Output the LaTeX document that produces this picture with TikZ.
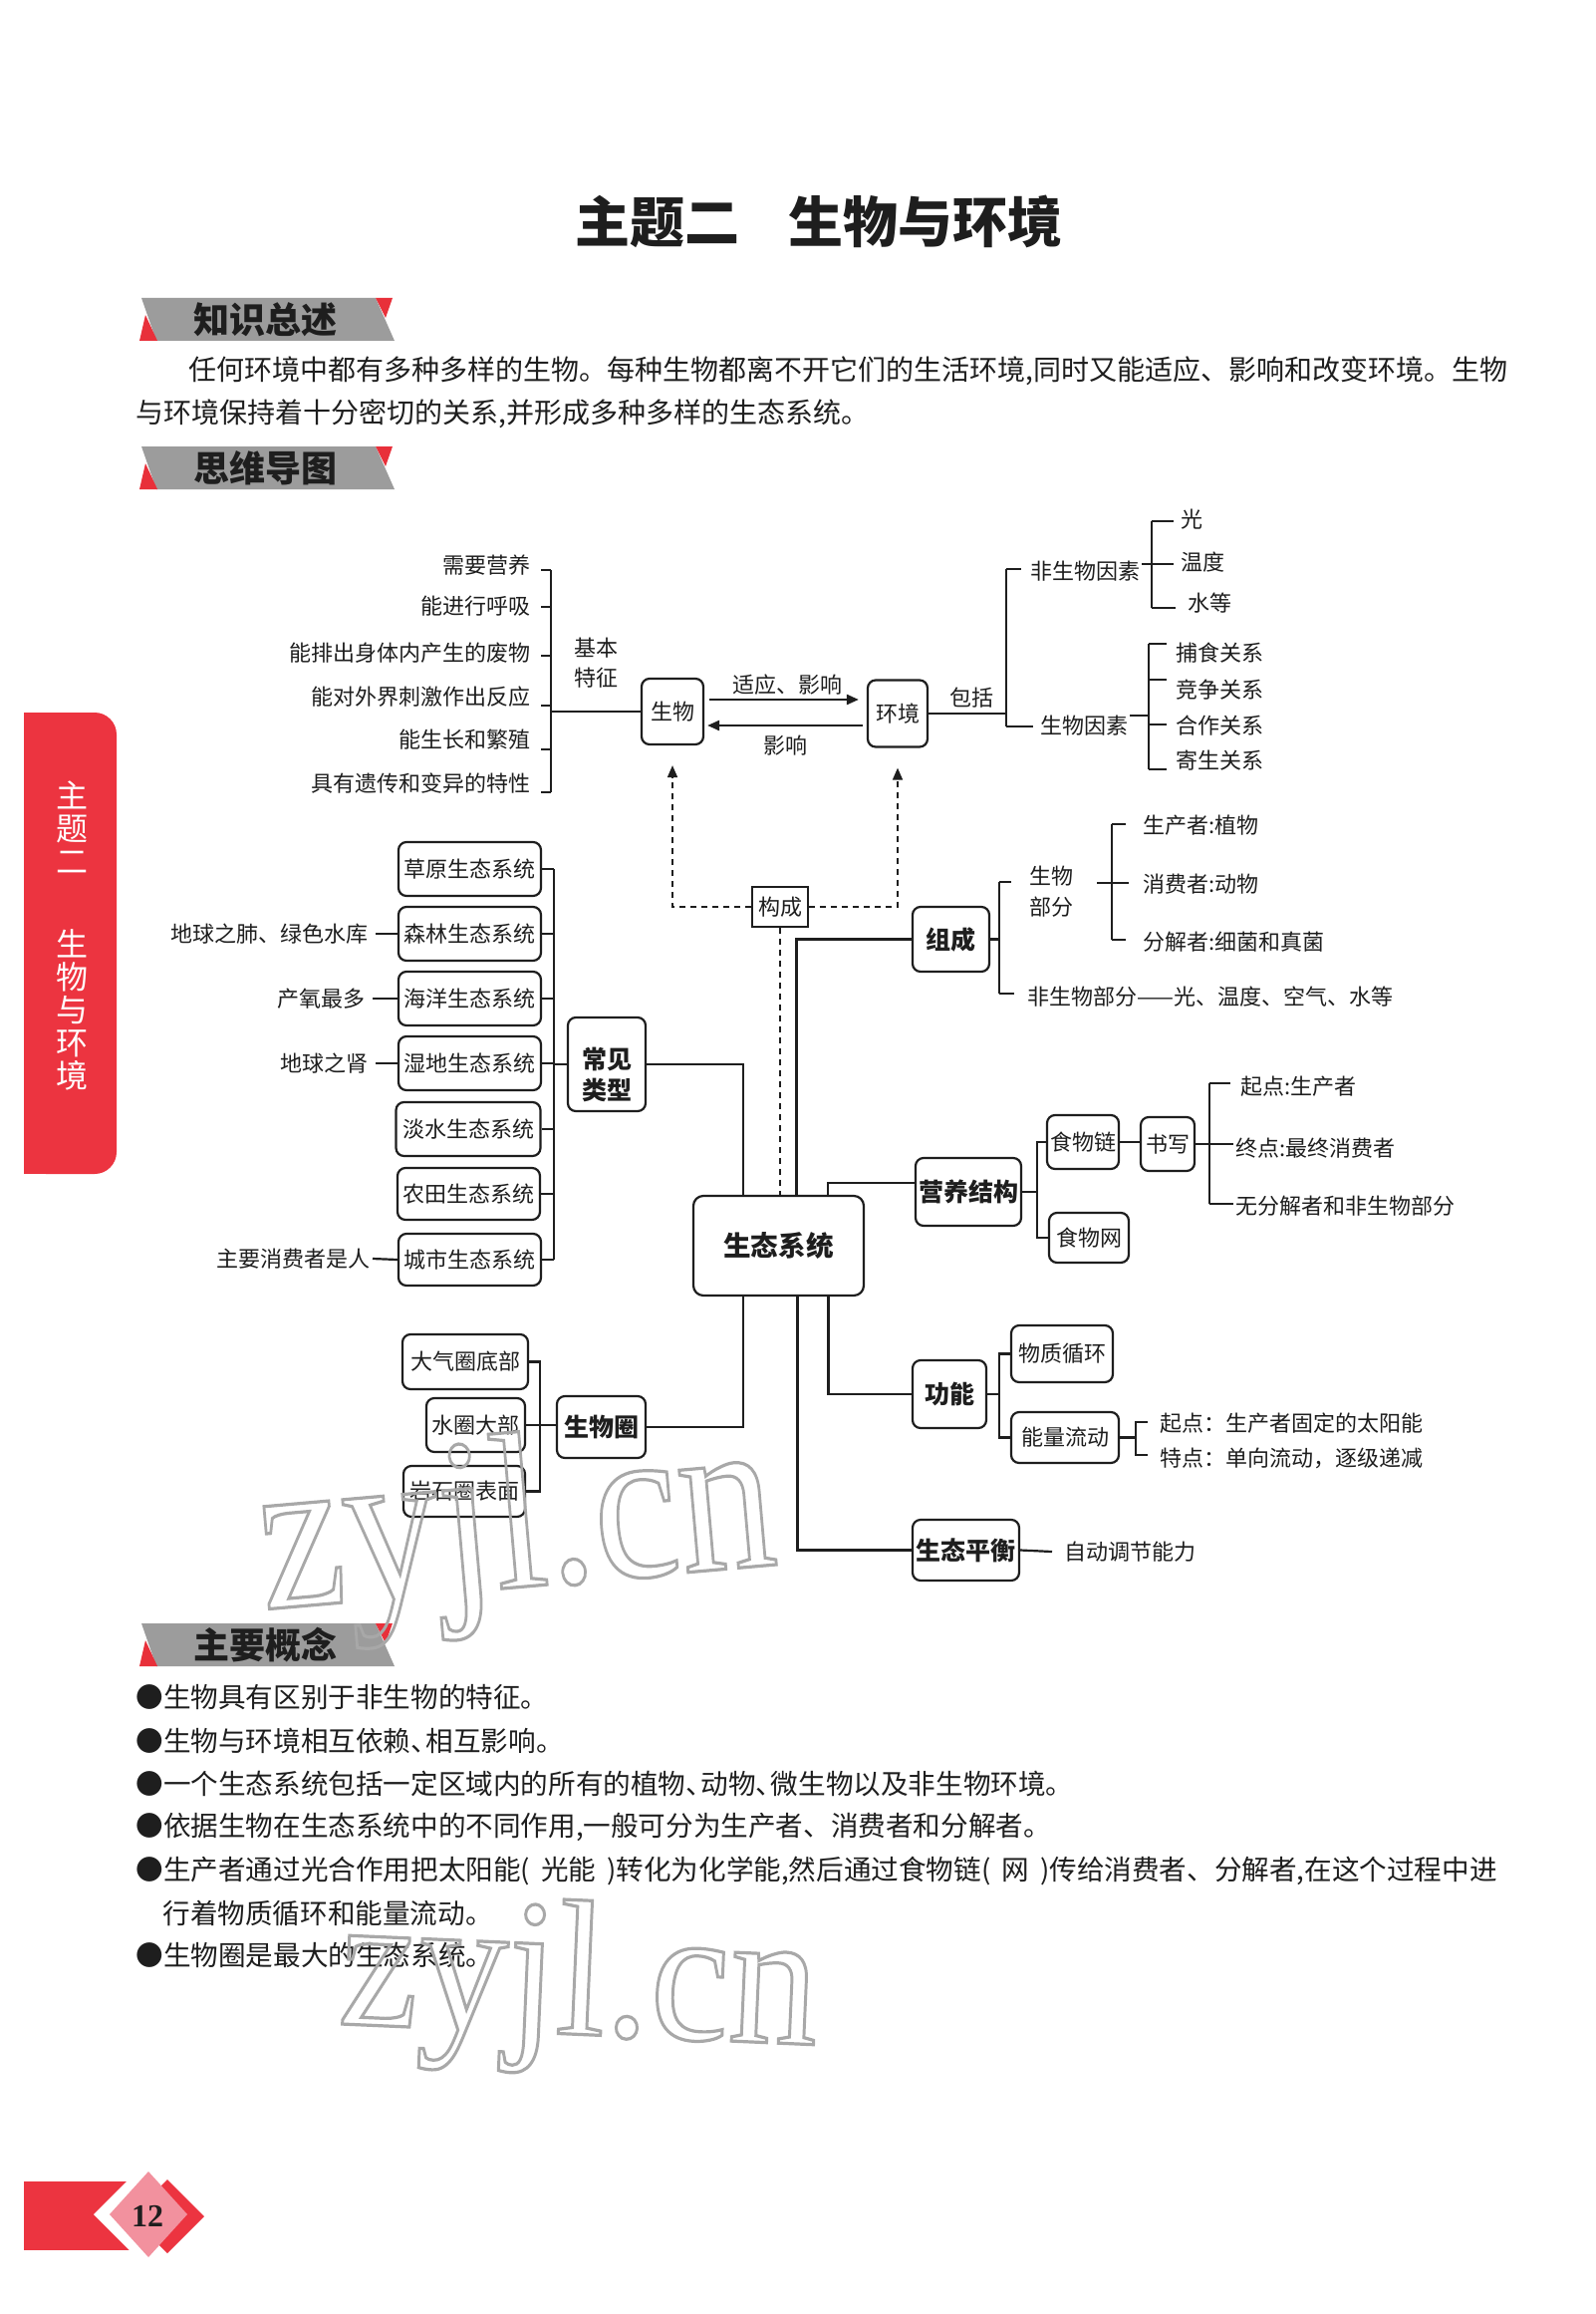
\documentclass[tikz,border=0pt]{standalone}
\usepackage{fontspec}
\setmainfont{Noto Sans CJK SC}
\newfontfamily\numfont{Liberation Serif}
\newfontfamily\wmfont{Liberation Serif}
\usetikzlibrary{arrows.meta}
\definecolor{ink}{HTML}{1E1E1E}
\definecolor{tabred}{HTML}{EC3440}
\definecolor{banred}{HTML}{E8303A}
\definecolor{pinkd}{HTML}{F2919E}
\definecolor{bangray}{HTML}{9C9C9C}
\definecolor{wmgray}{HTML}{A8A8A8}
\newcommand\wmtext[1]{\special{pdf:literal direct 1 Tr 1.6 w}#1\special{pdf:literal direct 0 Tr}}
\newcommand\hdn{\makebox[0.55em][l]{、}}
\newcommand\mybanner[3]{%
  \begin{scope}[shift={(0,#2)}]
    \fill[bangray] (142,0) -- (377,0) -- (396,43) -- (157,43) -- cycle;
    \fill[banred] (140,43) -- (158,43) -- (146,17) -- cycle;
    \fill[banred] (377,0) -- (394,0) -- (387,20) -- cycle;
    \node[font=\bfseries\fontsize{18}{20}\selectfont,text=ink,inner sep=0pt] (#1) at (266,22) {#3};
  \end{scope}}
\begin{document}
\begin{tikzpicture}[x=0.5pt,y=-0.5pt,
  ln/.style={draw=ink,line width=1.1pt},
  t/.style={font=\fontsize{11}{15}\selectfont,text=ink,inner sep=0pt},
  bx/.style={draw=ink,line width=1.1pt,rounded corners=4pt,inner sep=0pt,font=\fontsize{11}{15}\selectfont,text=ink},
  hb/.style={bx,font=\bfseries\fontsize{12.5}{15}\selectfont},
  hbt/.style={font=\bfseries\fontsize{12.5}{15.5}\selectfont,text=ink,inner sep=0pt,align=center},
  dsh/.style={draw=ink,line width=0.8pt,dash pattern=on 3pt off 2.5pt},
  tip/.style={-{Triangle[length=6pt,width=5pt]}},
  para/.style={font=\fontsize{14}{16}\selectfont,text=ink,inner sep=0pt,anchor=west},
  blt/.style={font=\fontsize{13.8}{16}\selectfont,text=ink,inner sep=0pt,anchor=west},
  wm/.style={font=\wmfont\fontsize{112}{112}\selectfont,text=wmgray,inner sep=0pt},
]
\useasboundingbox (0,0) rectangle (1601,2322);
\fill[white] (0,0) rectangle (1601,2322);

% title
\node[font=\bfseries\fontsize{27.5}{30}\selectfont,text=ink] (title) at (822,222) {主题二\hspace{0.9em}生物与环境};

% banners
\mybanner{b1}{299}{知识总述}
\mybanner{b2}{448}{思维导图}
\mybanner{b3}{1629}{主要概念}

% overview paragraph
\node[para] (p1) at (189,372) {任何环境中都有多种多样的生物。每种生物都离不开它们的生活环境,同时又能适应、影响和改变环境。生物};
\node[para] (p2) at (136,415) {与环境保持着十分密切的关系,并形成多种多样的生态系统。};

% side tab
\fill[tabred,rounded corners=11pt] (24,715) rectangle (117,1178);
\fill[tabred] (24,715) rectangle (70,1178);
\node[font=\fontsize{16}{16.5}\selectfont,text=white,align=center,inner sep=0pt] (tab1) at (72,830) {主\\题\\二};
\node[font=\fontsize{16}{16.5}\selectfont,text=white,align=center,inner sep=0pt] (tab2) at (72,1013.5) {生\\物\\与\\环\\境};

% ---------- mind map ----------
% basic features
\node[t,anchor=east] (f1) at (533,567) {需要营养};
\node[t,anchor=east] (f2) at (533,608) {能进行呼吸};
\node[t,anchor=east] (f3) at (533,655) {能排出身体内产生的废物};
\node[t,anchor=east] (f4) at (533,699) {能对外界刺激作出反应};
\node[t,anchor=east] (f5) at (533,742) {能生长和繁殖};
\node[t,anchor=east] (f6) at (533,786) {具有遗传和变异的特性};
\coordinate (s1t) at (553,572);
\coordinate (s1b) at (553,795);
\draw[ln] (s1t) -- (s1b);
\foreach \yy in {572,609,658,708,752,795} \draw[ln] (543,\yy) -- (553,\yy);
\node[t,align=center] (jb) at (598,665) {基本\\特征};

\node[bx,minimum width=31pt,minimum height=33pt] (bio) at (675,714) {生物};
\node[bx,minimum width=30pt,minimum height=33.5pt] (env) at (901,716) {环境};
\draw[ln] (bio.west) -- (bio.west -| s1t);
\draw[ln,line width=1.2pt,tip] ([xshift=2.5pt,yshift=6pt]bio.east) -- ([xshift=-4pt,yshift=6pt]bio.east -| env.west);
\draw[ln,line width=1.2pt,tip] ([xshift=-2pt,yshift=-6pt]env.west) -- ([xshift=1.5pt,yshift=-6pt]env.west -| bio.east);
\node[t] (l1) at (790,687) {适应、影响};
\node[t] (l2) at (788,748) {影响};

% environment factors
\coordinate (s2t) at (1010,571);
\coordinate (s2b) at (1010,729);
\draw[ln] (env.east) -- (env.east -| s2t);
\node[t] (bk) at (975,700) {包括};
\draw[ln] (s2t) -- (s2b);
\draw[ln] (s2t) -- (1025,571);
\draw[ln] (s2b) -- (1037,729);
\node[t,anchor=west] (fsw) at (1034,573) {非生物因素};
\node[t,anchor=west] (swy) at (1044,728) {生物因素};
\draw[ln] (1146,566) -- (1156,566);
\draw[ln] (1156,523) -- (1156,610);
\draw[ln] (1156,523) -- (1178,523);
\draw[ln] (1156,566) -- (1178,566);
\draw[ln] (1156,610) -- (1180,610);
\node[t,anchor=west] (g1) at (1185,521) {光};
\node[t,anchor=west] (g2) at (1185,564) {温度};
\node[t,anchor=west] (g3) at (1192,605) {水等};
\draw[ln] (1134,718) -- (1153,718);
\draw[ln] (1153,646) -- (1153,772);
\foreach \yy in {646,682,727,772} \draw[ln] (1153,\yy) -- (1171,\yy);
\node[t,anchor=west] (r1) at (1180,655) {捕食关系};
\node[t,anchor=west] (r2) at (1180,692) {竞争关系};
\node[t,anchor=west] (r3) at (1180,728) {合作关系};
\node[t,anchor=west] (r4) at (1180,763) {寄生关系};

% ecosystem
\node[bx,rounded corners=5pt,minimum width=85.5pt,minimum height=50pt,font=\bfseries\fontsize{13.8}{16}\selectfont] (eco) at (781.5,1250) {生态系统};
\node[t,draw=ink,line width=0.9pt,minimum width=28pt,minimum height=20pt] (gc) at (783,910) {构成};
\draw[dsh,tip] (gc.west) -| ([yshift=-10pt]bio.south);
\draw[dsh,tip] (gc.east) -| ([yshift=-10pt]env.south);
\draw[dsh] (gc.south) -- (gc.south |- eco.north);

% common types
\node[hb,minimum width=39pt,minimum height=47pt] (cj) at (609,1068) {};
\node[hbt] (cjt) at ([yshift=-5pt]cj.center) {常见\\类型};
\draw[ln] ([xshift=-17.75pt]eco.north) |- (cj.east);
\node[bx,minimum width=71.5pt,minimum height=27pt] (e1) at (471.5,872) {草原生态系统};
\node[bx,minimum width=71.5pt,minimum height=27pt] (e2) at (471.5,937) {森林生态系统};
\node[bx,minimum width=71.5pt,minimum height=27pt] (e3) at (471.5,1002) {海洋生态系统};
\node[bx,minimum width=71.5pt,minimum height=27pt] (e4) at (471.5,1067) {湿地生态系统};
\node[bx,minimum width=72.5pt,minimum height=27pt] (e5) at (470,1133) {淡水生态系统};
\node[bx,minimum width=71.5pt,minimum height=26pt] (e6) at (470.5,1198) {农田生态系统};
\node[bx,minimum width=71.5pt,minimum height=26pt] (e7) at (471.5,1264) {城市生态系统};
\coordinate (s3t) at (556,872);
\coordinate (s3b) at (556,1264);
\draw[ln] (s3t) -- (s3b);
\foreach \e in {e1,e2,e3,e4,e5,e6,e7} \draw[ln] (\e.east) -- (\e.east -| s3t);
\draw[ln] (cj.west) -- (cj.west -| s3t);
\node[t,anchor=east] (n1) at (370,937) {地球之肺、绿色水库};
\node[t,anchor=east] (n2) at (367,1002) {产氧最多};
\node[t,anchor=east] (n3) at (370,1067) {地球之肾};
\node[t,anchor=east] (n4) at (372,1263) {主要消费者是人};
\draw[ln] ([xshift=3.5pt]n1.east) -- (e2.west);
\draw[ln] ([xshift=3.5pt]n2.east) -- (e3.west);
\draw[ln] ([xshift=3.5pt]n3.east) -- (e4.west);
\draw[ln] ([xshift=1pt]n4.east) -- (e7.west);

% composition
\node[hb,minimum width=38.5pt,minimum height=32.5pt] (zc) at (954.5,942.5) {组成};
\draw[ln] ([xshift=9pt]eco.north) |- (zc.west);
\coordinate (s4t) at (1003,885);
\coordinate (s4b) at (1003,997);
\draw[ln] (zc.east) -- (zc.east -| s4t);
\draw[ln] (s4t) -- (s4b);
\draw[ln] (s4t) -- (1015,885);
\draw[ln] (s4b) -- (1018,997);
\node[t,align=center,font=\fontsize{11}{15.5}\selectfont] (swbf) at (1055,895) {生物\\部分};
\node[t,anchor=west] (fsb) at (1031,1000) {非生物部分——光、温度、空气、水等};
\draw[ln] (1101,886) -- (1116,886);
\draw[ln] (1116,827) -- (1116,943);
\draw[ln] (1116,827) -- (1130,827);
\draw[ln] (1116,886) -- (1133,886);
\draw[ln] (1116,943) -- (1130,943);
\node[t,anchor=west] (c1) at (1147,828) {生产者:植物};
\node[t,anchor=west] (c2) at (1147,887) {消费者:动物};
\node[t,anchor=west] (c3) at (1147,945) {分解者:细菌和真菌};

% trophic structure
\node[hb,minimum width=53pt,minimum height=34pt] (yy) at (972,1196) {营养结构};
\draw[ln] ([xshift=24.75pt]eco.north) |- ([yshift=4.5pt]yy.west);
\node[bx,minimum width=36pt,minimum height=27pt] (swl) at (1087,1146) {食物链};
\node[bx,minimum width=40pt,minimum height=25pt] (swn) at (1093,1242) {食物网};
\node[bx,minimum width=27pt,minimum height=27pt] (sx) at (1172,1148) {书写};
\coordinate (s6) at (1041,1196);
\draw[ln] (yy.east) -- (yy.east -| s6);
\draw[ln] (swl.west) -- (swl.west -| s6) -- (swn.west -| s6) -- (swn.west);
\draw[ln] (swl.east) -- (swl.east -| sx.west);
\coordinate (s7) at (1214,1148);
\draw[ln] (sx.east) -- (sx.east -| s7);
\draw[ln] (1214,1087) -- (1214,1208);
\draw[ln] (1214,1087) -- (1235,1087);
\draw[ln] (1214,1148) -- (1238,1148);
\draw[ln] (1214,1208) -- (1238,1208);
\node[t,anchor=west] (k1) at (1245,1090) {起点:生产者};
\node[t,anchor=west] (k2) at (1240,1152) {终点:最终消费者};
\node[t,anchor=west] (k3) at (1240,1210) {无分解者和非生物部分};

% function
\node[hb,minimum width=37pt,minimum height=34pt] (gn) at (953,1399) {功能};
\draw[ln] ([xshift=25pt]eco.south) |- (gn.west);
\node[bx,minimum width=51pt,minimum height=28.5pt] (wz) at (1066,1358.5) {物质循环};
\node[bx,minimum width=54pt,minimum height=25.5pt] (nl) at (1069,1442.5) {能量流动};
\coordinate (s8) at (1003,1399);
\draw[ln] (gn.east) -- (gn.east -| s8);
\draw[ln] (wz.west) -- (wz.west -| s8) -- (nl.west -| s8) -- (nl.west);
\coordinate (s9) at (1140,1442.5);
\draw[ln] (nl.east) -- (nl.east -| s9);
\draw[ln] (1152,1427) -- (1140,1427) -- (1140,1460) -- (1152,1460);
\node[t,anchor=west] (m1) at (1164,1428) {起点：生产者固定的太阳能};
\node[t,anchor=west] (m2) at (1164,1463) {特点：单向流动，逐级递减};

% balance
\node[hb,minimum width=53.5pt,minimum height=30.5pt] (ph) at (969.5,1555.5) {生态平衡};
\draw[ln] ([xshift=9.5pt]eco.south) |- (ph.west);
\node[t,anchor=west] (zd) at (1068,1557) {自动调节能力};
\draw[ln] (ph.east) -- ([xshift=-6pt]zd.west);

% biosphere
\node[hb,minimum width=44.5pt,minimum height=31pt] (swq) at (603.5,1432) {生物圈};
\draw[ln] ([xshift=-17.75pt]eco.south) |- (swq.east);
\node[bx,minimum width=63pt,minimum height=27.5pt] (q1) at (467,1366.5) {大气圈底部};
\node[bx,minimum width=49.5pt,minimum height=27pt] (q2) at (477.5,1430) {水圈大部};
\node[bx,minimum width=61pt,minimum height=25.5pt] (q3) at (466,1496.5) {岩石圈表面};
\coordinate (s10) at (542,1430);
\draw[ln] (q1.east) -- (q1.east -| s10) -- (q3.east -| s10) -- (q3.east);
\draw[ln] (q2.east) -- (q2.east -| swq.west);

% main concepts
\node[blt] (k01) at (136,1703) {●生物具有区别于非生物的特征。};
\node[blt] (k02) at (136,1747) {●生物与环境相互依赖\hdn 相互影响。};
\node[blt] (k03) at (136,1790) {●一个生态系统包括一定区域内的所有的植物\hdn 动物\hdn 微生物以及非生物环境。};
\node[blt] (k04) at (136,1833) {●依据生物在生态系统中的不同作用,一般可分为生产者、消费者和分解者。};
\node[blt] (k05) at (136,1877) {●生产者通过光合作用把太阳能(\hspace{0.4em}光能\hspace{0.4em})转化为化学能,然后通过食物链(\hspace{0.4em}网\hspace{0.4em})传给消费者、分解者,在这个过程中进};
\node[blt] (k06) at (163,1920) {行着物质循环和能量流动。};
\node[blt] (k07) at (136,1962) {●生物圈是最大的生态系统。};

% page number badge
\fill[tabred] (24,2189) rectangle (130,2258);
\fill[white] (94,2222) -- (149,2167) -- (204,2222) -- (149,2277) -- cycle;
\fill[tabred] (131,2224) -- (168,2187) -- (205,2224) -- (168,2261) -- cycle;
\fill[pinkd] (110,2222) -- (149,2179) -- (188,2222) -- (149,2265) -- cycle;
\node[font=\numfont\bfseries\fontsize{16}{18}\selectfont,text=ink,inner sep=0pt] (pg) at (148,2224) {12};

% watermarks
\node[wm,rotate=5,xscale=0.86] (wm1) at (519,1539) {\wmtext{zyjl.cn}};
\node[wm,rotate=-2.5,xscale=0.92,font=\wmfont\fontsize{97}{97}\selectfont] (wm2) at (581,1995) {\wmtext{zyjl.cn}};
\end{tikzpicture}
\end{document}
